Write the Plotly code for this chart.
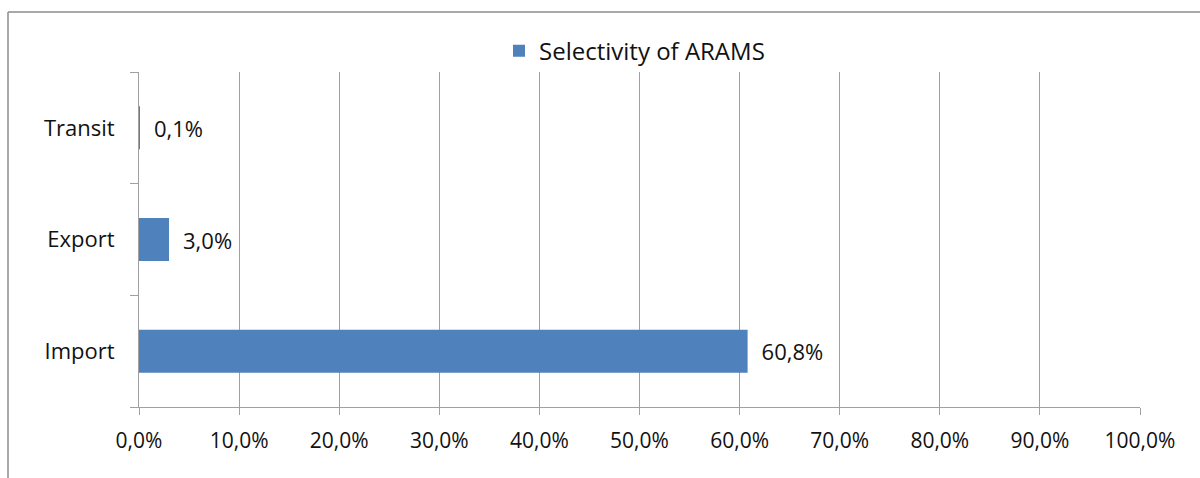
import plotly.graph_objects as go

categories = ["Import", "Export", "Transit"]
values = [0.608, 0.030, 0.001]
series_name = "Selectivity of ARAMS"
tick_vals = [i / 10 for i in range(11)]

FONT = "Open Sans"
GRID = "#a0a0a0"
BORDER = "#8c8c8c"
TXT = "#111111"

fig = go.Figure()
fig.add_trace(go.Bar(
    y=categories, x=values, orientation="h", name=series_name,
    marker=dict(color="#4f81bd", line=dict(width=0)),
    texttemplate="\u2002%{x:.1%}", textposition="outside",
    textfont=dict(family=FONT, size=22, color=TXT),
    cliponaxis=False, showlegend=True,
))

W, H = 1200, 478
L, R, T, B = 139, 60, 72, 71

fig.update_layout(
    width=W, height=H, autosize=False,
    margin=dict(l=L, r=R, t=T, b=B, pad=0),
    paper_bgcolor="white", plot_bgcolor="white",
    separators=",.",
    bargap=0.615,
    font=dict(family=FONT, size=22, color=TXT),
    showlegend=True,
    legend=dict(orientation="h", x=0.495, xanchor="center", y=0.995, yanchor="bottom",
                yref="paper", font=dict(family=FONT, size=24, color=TXT),
                bgcolor="rgba(0,0,0,0)", itemclick=False, itemwidth=30),
    xaxis=dict(range=[0, 1], tickvals=tick_vals, tickformat=".1%",
               tickfont=dict(size=21),
               showgrid=True, gridcolor=GRID, gridwidth=1,
               showline=True, linecolor=GRID, linewidth=1,
               ticks="outside", ticklen=7, tickcolor=GRID,
               ticklabelstandoff=8, zeroline=False, fixedrange=True),
    yaxis=dict(categoryorder="array", categoryarray=categories,
               tickfont=dict(size=22),
               showgrid=False, showline=True, linecolor=GRID, linewidth=1,
               ticks="outside", ticklen=8, tickcolor=GRID, tickson="boundaries",
               ticklabelstandoff=19, fixedrange=True),
)

# outer chart border (left and top edges visible)
x_left = (8 - L) / (W - L - R)
y_top = 1 + (T - 12) / (H - T - B)
x_right = (W + 5 - L) / (W - L - R)
y_bottom = -(B + 5) / (H - T - B)
fig.add_shape(type="line", xref="paper", yref="paper", x0=x_left, x1=x_right,
              y0=y_top, y1=y_top, line=dict(color=BORDER, width=1.5))
fig.add_shape(type="line", xref="paper", yref="paper", x0=x_left, x1=x_left,
              y0=y_bottom, y1=y_top, line=dict(color=BORDER, width=1.5))

fig.write_html("out.html", config={"displayModeBar": False})
